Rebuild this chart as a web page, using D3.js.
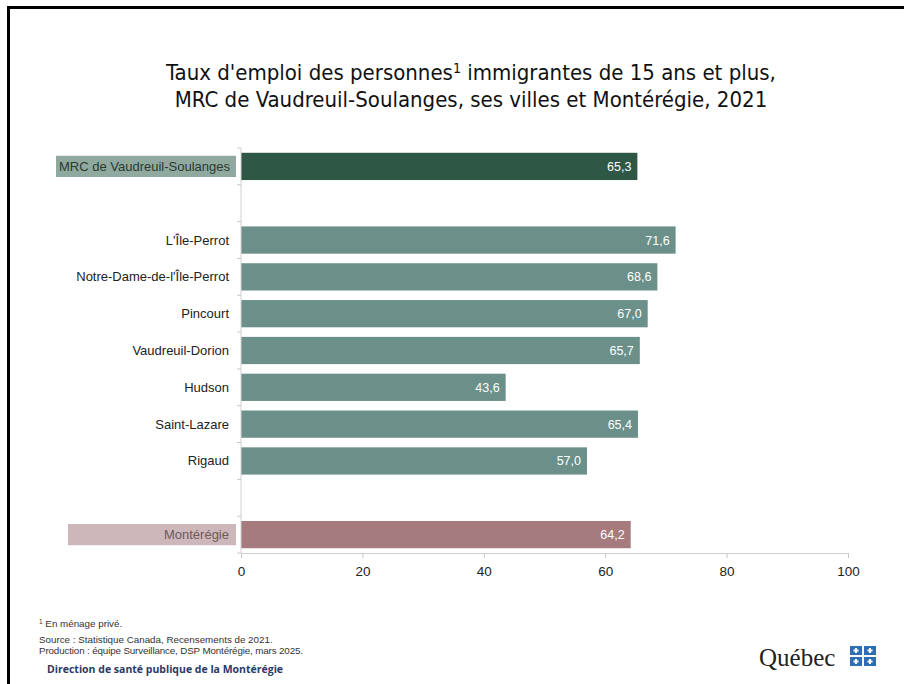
<!DOCTYPE html>
<html><head><meta charset="utf-8">
<script src="https://cdn.jsdelivr.net/npm/d3@7"></script>
<style>body{margin:0;background:#fff;} svg{display:block;}</style>
</head><body>
<svg id="c" width="904" height="684"></svg>
<script>
const categories = ["MRC de Vaudreuil-Soulanges", "", "L'Île-Perrot", "Notre-Dame-de-l'Île-Perrot", "Pincourt", "Vaudreuil-Dorion", "Hudson", "Saint-Lazare", "Rigaud", " ", "Montérégie"];
const values = [65.3, null, 71.6, 68.6, 67.0, 65.7, 43.6, 65.4, 57.0, null, 64.2];
const groups = ["mrc", "", "ville", "ville", "ville", "ville", "ville", "ville", "ville", "", "region"];
const xTicks = [0, 20, 40, 60, 80, 100];

const colors = {mrc: "#2f5746", ville: "#6a9089", region: "#a67b80"};
const labelBg = {mrc: "#8fa99f", region: "#cdb7ba"};
const labelFg = {mrc: "#2b3a33", region: "#6e5a5d"};

const svg = d3.select("#c");
const font = "'Liberation Sans Narrow','DejaVu Sans Condensed','Liberation Sans',sans-serif";
const sans = "'Liberation Sans',Arial,sans-serif";

// frame
svg.append("path").attr("d", "M8.5,684 L8.5,7.5 L904,7.5").attr("fill", "none").attr("stroke", "#000").attr("stroke-width", 3);

// title
const title = svg.append("text").attr("x", 471).attr("text-anchor", "middle").attr("font-family", font).attr("font-size", 22).attr("fill", "#111");
const t1 = title.append("tspan").attr("x", 471).attr("y", 80);
t1.append("tspan").text("Taux d'emploi des personnes");
t1.append("tspan").text("1").attr("font-size", 14).attr("dy", -7);
t1.append("tspan").text(" immigrantes de 15 ans et plus,").attr("dy", 7);
title.append("tspan").attr("x", 471).attr("y", 107).text("MRC de Vaudreuil-Soulanges, ses villes et Montérégie, 2021");

const x = d3.scaleLinear().domain([0, 100]).range([241, 848]);
const y = d3.scaleBand().domain(categories).range([148, 553]).paddingInner(0.26).paddingOuter(0.13);
const yb = d3.scaleBand().domain(categories).range([148, 553]);

// bars
const data = categories.map((c, i) => ({c, v: values[i], g: groups[i]})).filter(d => d.v !== null);
svg.selectAll("rect.bar").data(data).join("rect").attr("class", "bar")
  .attr("x", x(0)).attr("y", d => y(d.c)).attr("width", d => x(d.v) - x(0)).attr("height", y.bandwidth())
  .attr("fill", d => colors[d.g]);

// values
svg.selectAll("text.val").data(data).join("text").attr("class", "val")
  .attr("x", d => x(d.v) - 6).attr("y", d => y(d.c) + y.bandwidth() / 2 + 4.5)
  .attr("text-anchor", "end").attr("font-family", sans).attr("font-size", 12.5).attr("fill", "#fff")
  .text(d => d.v.toFixed(1).replace(".", ","));

// category label backgrounds
data.filter(d => labelBg[d.g]).forEach(d => {
  const x0 = d.g === "mrc" ? 56 : 68;
  svg.append("rect").attr("x", x0).attr("y", y(d.c) + 3).attr("width", 236 - x0).attr("height", y.bandwidth() - 6).attr("fill", labelBg[d.g]);
});

// y axis
const yAxis = svg.append("g").attr("transform", `translate(${x(0)},0)`);
yAxis.append("line").attr("x1", 0).attr("x2", 0).attr("y1", 148).attr("y2", 553).attr("stroke", "#d0d0d0");
const bounds = categories.map(c => yb(c)).concat([553]);
yAxis.selectAll("line.tk").data(bounds).join("line").attr("class", "tk")
  .attr("x1", -4).attr("x2", 0).attr("y1", d => d).attr("y2", d => d).attr("stroke", "#c8c8c8");
svg.selectAll("text.cat").data(data).join("text").attr("class", "cat")
  .attr("x", d => d.g === "mrc" ? 230 : 229).attr("y", d => y(d.c) + y.bandwidth() / 2 + 4.5)
  .attr("text-anchor", "end").attr("font-family", sans).attr("font-size", 13)
  .attr("fill", d => labelFg[d.g] || "#222").text(d => d.c);

// x axis
const xAxis = svg.append("g").attr("transform", "translate(0,553)")
  .call(d3.axisBottom(x).tickValues(xTicks).tickSize(5).tickSizeOuter(0).tickFormat(d3.format("d")));
xAxis.select(".domain").attr("stroke", "#d0d0d0");
xAxis.selectAll(".tick line").attr("stroke", "#c8c8c8");
xAxis.selectAll(".tick text").attr("font-family", sans).attr("font-size", 13.5).attr("fill", "#222").attr("dy", "1.1em");

// footnotes
const fn = svg.append("g").attr("font-family", sans).attr("fill", "#333").attr("font-size", 9.8);
const f1 = fn.append("text").attr("x", 39).attr("y", 627);
f1.append("tspan").text("1").attr("font-size", 6.5).attr("dy", -3);
f1.append("tspan").text(" En ménage privé.").attr("dy", 3);
fn.append("text").attr("x", 39).attr("y", 643).text("Source : Statistique Canada, Recensements de 2021.");
fn.append("text").attr("x", 39).attr("y", 654).attr("textLength", 264).text("Production : équipe Surveillance, DSP Montérégie, mars 2025.");
svg.append("text").attr("x", 47).attr("y", 673).attr("font-family", "'Open Sans','Noto Sans',sans-serif")
  .attr("font-weight", "bold").attr("font-size", 10.5).attr("fill", "#2b3a67").text("Direction de santé publique de la Montérégie");

// Québec logo
svg.append("text").attr("x", 759).attr("y", 666).attr("font-family", "'Liberation Serif','DejaVu Serif',serif")
  .attr("font-size", 25).attr("fill", "#222").text("Québec");
const flag = svg.append("g").attr("fill", "#2e6eb5");
[[850, 646], [864, 646], [850, 657], [864, 657]].forEach(([a, b]) => {
  flag.append("rect").attr("x", a).attr("y", b).attr("width", 12).attr("height", 9);
  flag.append("rect").attr("x", a + 5).attr("y", b + 2).attr("width", 2).attr("height", 5).attr("fill", "#fff");
  flag.append("rect").attr("x", a + 3.5).attr("y", b + 3.5).attr("width", 5).attr("height", 2).attr("fill", "#fff");
});
</script>
</body></html>
